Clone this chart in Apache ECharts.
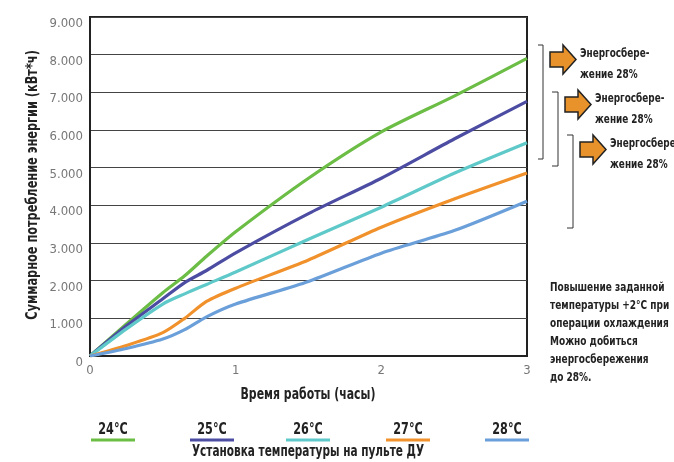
<!DOCTYPE html>
<html>
<head>
<meta charset="utf-8">
<script src="https://cdn.jsdelivr.net/npm/echarts@6/dist/echarts.min.js"></script>
<style>html,body{margin:0;padding:0;background:#fff;}#c{width:674px;height:462px;}</style>
</head>
<body>
<div id="c"></div>
<script>
const hours = [0, 0.25, 0.5, 0.65, 0.8, 1, 1.5, 2, 2.5, 3];
const s24 = [0, 0.85, 1.68, 2.13, 2.65, 3.3, 4.72, 5.95, 6.9, 7.9];
const s25 = [0, 0.8, 1.52, 1.95, 2.27, 2.74, 3.78, 4.72, 5.76, 6.76];
const s26 = [0, 0.72, 1.38, 1.65, 1.9, 2.23, 3.1, 3.95, 4.85, 5.66];
const s27 = [0, 0.28, 0.62, 1.0, 1.45, 1.8, 2.55, 3.42, 4.17, 4.86];
const s28 = [0, 0.2, 0.45, 0.7, 1.04, 1.38, 1.98, 2.73, 3.33, 4.11];
const seriesNames = ['24°C', '25°C', '26°C', '27°C', '28°C'];
const seriesValues = [s24, s25, s26, s27, s28];
const colors = ['#6cbd45', '#4b4ca2', '#5fc9c9', '#f0912b', '#6a9fd9'];
const yTickLabels = ['0', '1.000', '2.000', '3.000', '4.000', '5.000', '6.000', '7.000', '8.000', '9.000'];
const xTickLabels = ['0', '1', '2', '3'];
const xTitle = 'Время работы (часы)';
const yTitle = 'Суммарное потребление энергии (кВт*ч)';
const legendTitle = 'Установка температуры на пульте ДУ';
const noteLines = ['Повышение заданной', 'температуры +2°C при', 'операции охлаждения', 'Можно добиться', 'энергосбережения', 'до 28%.'];
const savingText = 'Энергосбере-\nжение 28%';

const FONT = '"Liberation Sans Narrow", "DejaVu Sans Condensed", "Roboto Condensed", sans-serif';
const chart = echarts.init(document.getElementById('c'));

const series = seriesNames.map((n, i) => ({
  name: n, type: 'line', smooth: 0.25, showSymbol: false,
  data: hours.map((h, j) => [h, seriesValues[i][j]]),
  lineStyle: { color: colors[i], width: 3.2 },
  itemStyle: { color: colors[i] },
  z: 3
}));

function txt(x, y, text, size, sx, extra) {
  return Object.assign({
    type: 'text', x: x, y: y, scaleX: sx, silent: true,
    style: Object.assign({ text: text, font: 'bold ' + size + 'px ' + FONT, fill: '#222', align: 'left', verticalAlign: 'middle' }, (extra && extra.style) || {})
  }, (extra && extra.el) || {});
}

const graphic = [];
const legendX = [113, 212, 308, 408, 507];
seriesNames.forEach((n, i) => {
  graphic.push(txt(legendX[i], 430, n, 15, 0.83, { style: { align: 'center' } }));
  graphic.push({ type: 'line', shape: { x1: legendX[i] - 22, y1: 440, x2: legendX[i] + 22, y2: 440 }, style: { stroke: colors[i], lineWidth: 3 } });
});
graphic.push(txt(308, 452, legendTitle, 15, 0.78, { style: { align: 'center' } }));
graphic.push(txt(308, 395, xTitle, 15, 0.81, { style: { align: 'center' } }));
graphic.push(txt(33, 185, yTitle, 15, 0.84, { style: { align: 'center' }, el: { rotation: Math.PI / 2 } }));

// brackets
const brackets = [[538, 543, 45, 159], [552, 558, 92, 166], [567, 573, 135, 228]];
brackets.forEach(b => {
  graphic.push({ type: 'polyline', shape: { points: [[b[0], b[2]], [b[1], b[2]], [b[1], b[3]], [b[0], b[3]]] }, style: { stroke: '#333', lineWidth: 1, fill: null } });
});
// arrows + texts
const arrows = [[550, 45, 580], [565, 90, 595], [580, 135, 610]];
arrows.forEach(a => {
  const x = a[0], y = a[1], w = 26, h = 29;
  graphic.push({ type: 'polygon', shape: { points: [[x, y + 7], [x + 13, y + 7], [x + 13, y], [x + w, y + h / 2], [x + 13, y + h], [x + 13, y + h - 7], [x, y + h - 7]] }, style: { fill: '#e8922b', stroke: '#222', lineWidth: 1.5 } });
  graphic.push(txt(a[2], y - 2, savingText, 13, 0.76, { style: { lineHeight: 21, verticalAlign: 'top' } }));
});
noteLines.forEach((t, i) => {
  graphic.push(txt(550, 288 + i * 18, t, 12.5, 0.8));
});

chart.setOption({
  animation: false,
  backgroundColor: '#fff',
  grid: { left: 90, right: 147, top: 17, bottom: 106, show: true, borderColor: '#222', borderWidth: 2, containLabel: false },
  xAxis: {
    type: 'value', min: 0, max: 3, interval: 1,
    axisLine: { show: true, lineStyle: { color: '#222', width: 2 } },
    axisTick: { show: false }, splitLine: { show: false },
    axisLabel: { fontFamily: FONT, fontSize: 13, color: '#777', margin: 8, formatter: v => xTickLabels[Math.round(v)] }
  },
  yAxis: {
    type: 'value', min: 0, max: 9, interval: 1,
    axisLine: { show: true, lineStyle: { color: '#222', width: 2 } },
    axisTick: { show: false },
    splitLine: { show: true, lineStyle: { color: '#444', width: 1 } },
    axisLabel: { fontFamily: FONT, fontSize: 13, color: '#777', margin: 7, verticalAlign: 'top', formatter: v => yTickLabels[Math.round(v)] }
  },
  series: series,
  graphic: graphic
});
</script>
</body>
</html>
